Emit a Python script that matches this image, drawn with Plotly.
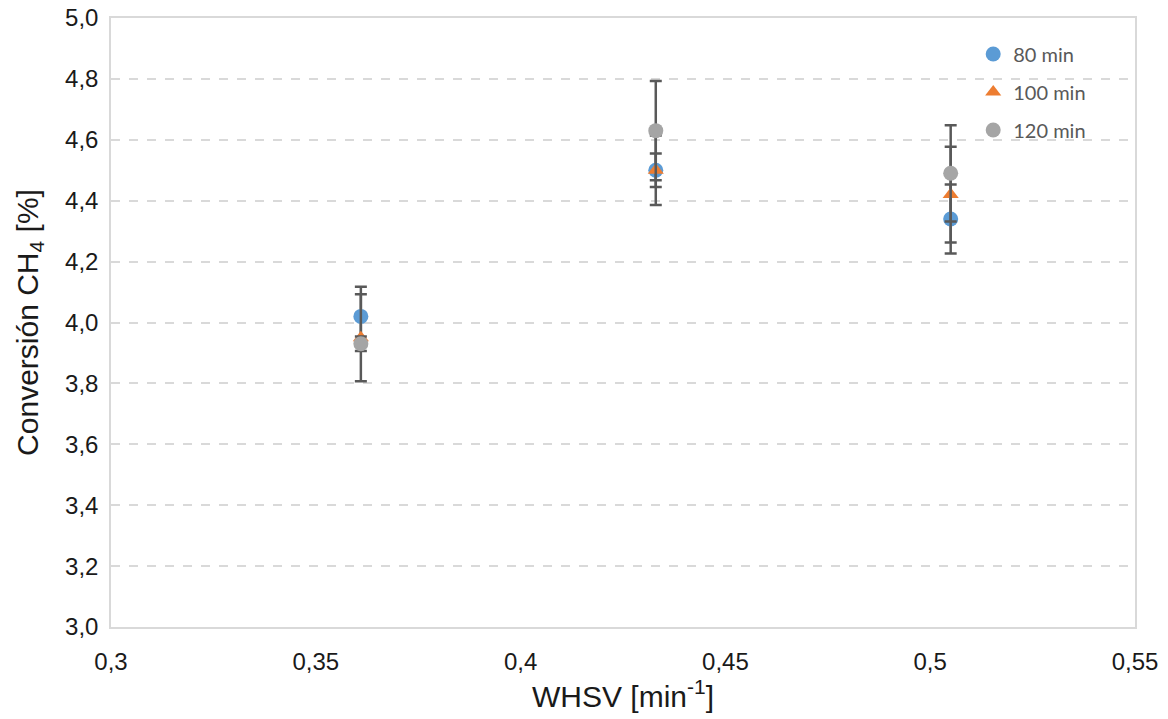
import plotly.graph_objects as go

# WHSV values (min^-1)
whsv = [0.361, 0.433, 0.505]

# CH4 conversion (%) and standard deviations for each reaction time
conv_80 = [4.02, 4.50, 4.34]
err_80 = [0.097, 0.055, 0.113]

conv_100 = [3.95, 4.50, 4.42]
err_100 = [0.143, 0.114, 0.157]

conv_120 = [3.93, 4.63, 4.49]
err_120 = [0.024, 0.163, 0.158]

series = [
    ("80 min", conv_80, err_80, "#5B9BD5", "circle"),
    ("100 min", conv_100, err_100, "#ED7D31", "triangle-up"),
    ("120 min", conv_120, err_120, "#A5A5A5", "circle"),
]

fig = go.Figure()
for i, (name, vals, errs, color, symbol) in enumerate(series):
    fig.add_trace(go.Scatter(
        x=whsv, y=vals, name=name, mode="markers",
        legendgroup=f"g{i}",
        marker=dict(color=color, symbol=symbol, size=15 if symbol == "circle" else 14),
        error_y=dict(type="data", array=errs, visible=True,
                     color="#595959", thickness=2.5, width=6),
    ))

grid_color = "#D9D9D9"
text_color = "#1a1a1a"
fig.update_layout(
    width=1168, height=719,
    margin=dict(l=111, r=33, t=18, b=92, autoexpand=False),
    paper_bgcolor="white", plot_bgcolor="white",
    separators=", ",
    font=dict(family="Liberation Sans, Arial, sans-serif", color=text_color),
    showlegend=True,
    legend=dict(
        x=0.842, y=0.973, xanchor="left", yanchor="top",
        font=dict(family="Lato, sans-serif", size=20, color="#595959"),
        bgcolor="rgba(0,0,0,0)",
        traceorder="grouped", tracegroupgap=9,
        itemwidth=30,
    ),
    xaxis=dict(
        range=[0.3, 0.55], dtick=0.05, tick0=0.3,
        showgrid=False, zeroline=False, automargin=False,
        showline=True, linecolor=grid_color, linewidth=1.5, mirror=True,
        ticks="outside", ticklen=12, tickcolor="rgba(0,0,0,0)",
        tickfont=dict(size=24, color=text_color),
        title=dict(text="WHSV [min<sup>-1</sup>]", font=dict(size=30, color=text_color),
                   standoff=12),
    ),
    yaxis=dict(
        range=[3.0, 5.0], dtick=0.2, tick0=3.0, tickformat=".1f",
        showgrid=True, gridcolor=grid_color, griddash="dash", gridwidth=1.5,
        zeroline=False, automargin=False,
        showline=True, linecolor=grid_color, linewidth=1.5, mirror=True,
        ticks="outside", ticklen=6, tickcolor="rgba(0,0,0,0)",
        tickfont=dict(size=24, color=text_color),
        title=dict(text="Conversión CH<sub>4</sub> [%]", font=dict(size=30, color=text_color),
                   standoff=18),
    ),
)

fig.write_html("out.html")
